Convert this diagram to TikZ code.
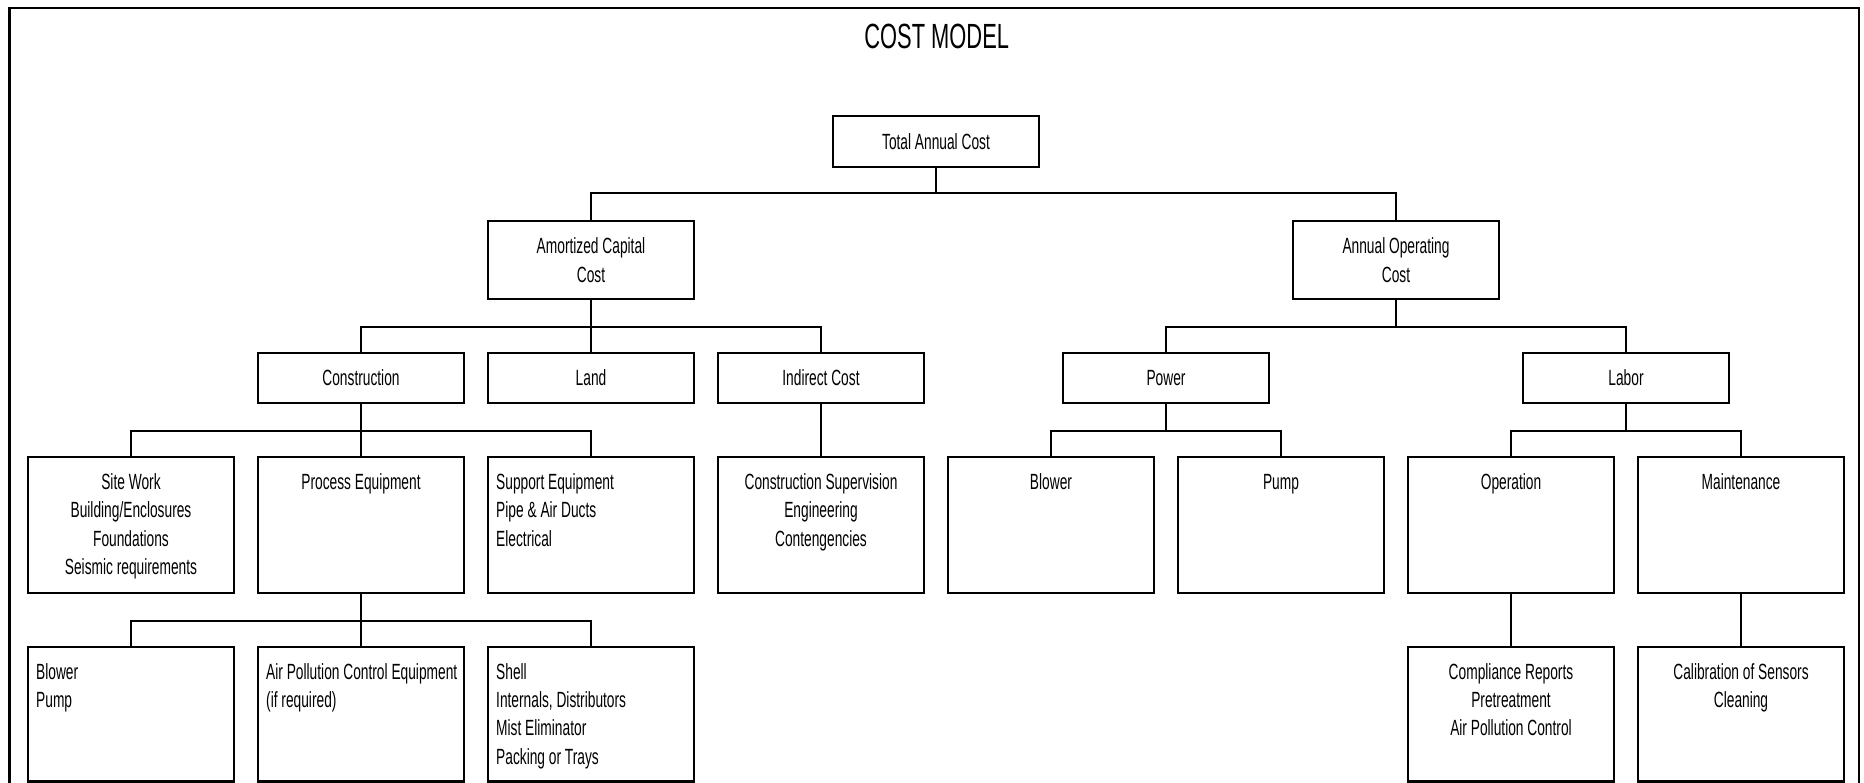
\documentclass[tikz,border=0pt]{standalone}
\usepackage{fontspec}
\setmainfont{Liberation Sans}[FakeStretch=0.625]
\newcommand{\cmbody}{\fontsize{22bp}{28.4bp}\selectfont}
\newcommand{\cmtitle}{\fontsize{35bp}{42bp}\selectfont}
\newcommand{\myst}{\rule{0pt}{20bp}}
\tikzset{
  box/.style={draw, line width=2.2bp, minimum width=206bp, inner sep=0pt, outer sep=0pt, align=center, font=\cmbody},
  lvlc/.style={box, minimum height=50bp},
  tallbox/.style={box, minimum height=135.4bp},
  lowbox/.style={box, minimum height=134.5bp},
  tc/.style={anchor=north, inner sep=0pt, align=center, font=\cmbody},
  tl/.style={anchor=north west, inner sep=0pt, align=left, font=\cmbody},
  conn/.style={line width=2.2bp, line join=miter},
  frame/.style={line width=2.4bp, line join=miter}
}
\begin{document}
\begin{tikzpicture}[x=1bp, y=-1bp]
\useasboundingbox (0,0) rectangle (1864,783);
\draw[frame] (9.3,783) -- (9.3,8) -- (1859,8) -- (1859,783);
\node[inner sep=0pt, font=\cmtitle] (title) at (936.7,36.7) {COST MODEL};

% level 1-2
\node[box, minimum height=51bp] (tot) at (936,141.7) {Total Annual Cost};
\node[box, minimum height=78bp] (amort) at (591,260) {Amortized Capital\\Cost};
\node[box, minimum height=78bp] (annop) at (1396,260) {Annual Operating\\Cost};

% level 3
\node[lvlc] (constr) at (361,377.7) {Construction};
\node[lvlc] (land) at (591,377.7) {Land};
\node[lvlc] (indir) at (821,377.7) {Indirect Cost};
\node[lvlc] (power) at (1166,377.7) {Power};
\node[lvlc] (labor) at (1626,377.7) {Labor};

% level 4
\node[tallbox] (site) at (131,525) {};
\node[tallbox] (proc) at (361,525) {};
\node[tallbox] (supp) at (591,525) {};
\node[tallbox] (csup) at (821,525) {};
\node[tallbox] (blow) at (1051,525) {};
\node[tallbox] (pump) at (1281,525) {};
\node[tallbox] (oper) at (1511,525) {};
\node[tallbox] (maint) at (1741,525) {};

\node[tc] (t-site) at ([yshift=-12bp]site.north) {\myst Site Work\\Building/Enclosures\\Foundations\\Seismic requirements};
\node[tc] (t-proc) at ([yshift=-12bp]proc.north) {\myst Process Equipment};
\node[tl] (t-supp) at ([xshift=8bp,yshift=-12bp]supp.north west) {\myst Support Equipment\\Pipe \& Air Ducts\\Electrical};
\node[tc] (t-csup) at ([yshift=-12bp]csup.north) {\myst Construction Supervision\\Engineering\\Contengencies};
\node[tc] (t-blow) at ([yshift=-12bp]blow.north) {\myst Blower};
\node[tc] (t-pump) at ([yshift=-12bp]pump.north) {\myst Pump};
\node[tc] (t-oper) at ([yshift=-12bp]oper.north) {\myst Operation};
\node[tc] (t-maint) at ([yshift=-12bp]maint.north) {\myst Maintenance};

% level 5
\node[lowbox] (bp) at (131,714.2) {};
\node[lowbox] (apc) at (361,714.2) {};
\node[lowbox] (shell) at (591,714.2) {};
\node[lowbox] (comp) at (1511,714.2) {};
\node[lowbox] (calib) at (1741,714.2) {};

\node[tl] (t-bp) at ([xshift=8bp,yshift=-12bp]bp.north west) {\myst Blower\\Pump};
\node[tl] (t-apc) at ([xshift=8bp,yshift=-12bp]apc.north west) {\myst Air Pollution Control Equipment\\(if required)};
\node[tl] (t-shell) at ([xshift=8bp,yshift=-12bp]shell.north west) {\myst Shell\\Internals, Distributors\\Mist Eliminator\\Packing or Trays};
\node[tc] (t-comp) at ([yshift=-12bp]comp.north) {\myst Compliance Reports\\Pretreatment\\Air Pollution Control};
\node[tc] (t-calib) at ([yshift=-12bp]calib.north) {\myst Calibration of Sensors\\Cleaning};

% buses
\coordinate (busA) at (0,192.7);
\coordinate (busB) at (0,326.7);
\coordinate (busC) at (0,431);
\coordinate (busD) at (0,621);

\draw[conn] (tot.south) -- (tot.south |- busA);
\draw[conn] (amort.north) -- (amort.north |- busA) -- (annop.north |- busA) -- (annop.north);

\draw[conn] (amort.south) -- (amort.south |- busB);
\draw[conn] (constr.north) -- (constr.north |- busB) -- (indir.north |- busB) -- (indir.north);
\draw[conn] (land.north) -- (land.north |- busB);
\draw[conn] (annop.south) -- (annop.south |- busB);
\draw[conn] (power.north) -- (power.north |- busB) -- (labor.north |- busB) -- (labor.north);

\draw[conn] (constr.south) -- (constr.south |- busC);
\draw[conn] (site.north) -- (site.north |- busC) -- (supp.north |- busC) -- (supp.north);
\draw[conn] (proc.north) -- (proc.north |- busC);
\draw[conn] (indir.south) -- (csup.north);
\draw[conn] (power.south) -- (power.south |- busC);
\draw[conn] (blow.north) -- (blow.north |- busC) -- (pump.north |- busC) -- (pump.north);
\draw[conn] (labor.south) -- (labor.south |- busC);
\draw[conn] (oper.north) -- (oper.north |- busC) -- (maint.north |- busC) -- (maint.north);

\draw[conn] (proc.south) -- (proc.south |- busD);
\draw[conn] (bp.north) -- (bp.north |- busD) -- (shell.north |- busD) -- (shell.north);
\draw[conn] (apc.north) -- (apc.north |- busD);
\draw[conn] (oper.south) -- (comp.north);
\draw[conn] (maint.south) -- (calib.north);
\end{tikzpicture}
\end{document}
